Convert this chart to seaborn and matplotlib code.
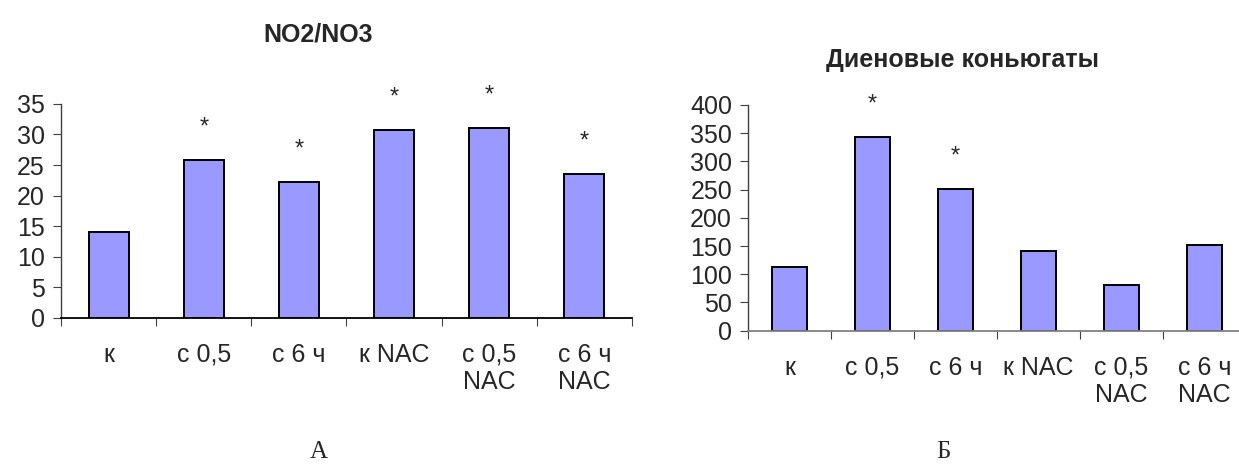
import matplotlib
matplotlib.use("Agg")
import matplotlib.pyplot as plt
from matplotlib.ticker import FixedLocator, NullFormatter
import seaborn as sns

# Group labels shared by both panels
groups = ["к", "с 0,5", "с 6 ч", "к NAC", "с 0,5\nNAC", "с 6 ч\nNAC"]

# Panel A: NO2/NO3
no_values = [14.0, 25.8, 22.3, 30.7, 31.1, 23.5]
no_marks = ["", "*", "*", "*", "*", "*"]
no_ticks = [0, 5, 10, 15, 20, 25, 30, 35]

# Panel Б: diene conjugates
dc_values = [112, 343, 251, 141, 81, 152]
dc_marks = ["", "*", "*", "", "", ""]
dc_ticks = [0, 50, 100, 150, 200, 250, 300, 350, 400]

sns.set_style("white")
plt.rcParams["font.family"] = ["Liberation Sans", "DejaVu Sans"]

BAR = "#9999FF"

fig = plt.figure(figsize=(12.39, 4.76), dpi=100)
ax_a = fig.add_axes([0.0492, 0.3326, 0.4609, 0.449])
ax_b = fig.add_axes([0.6037, 0.3053, 0.4019, 0.4742])


def draw_panel(ax, values, marks, ticks, title, title_xy, xspine_color):
    sns.barplot(x=groups, y=values, ax=ax, color=BAR, saturation=1,
                edgecolor="black", linewidth=1.4, width=0.42, order=groups)
    ax.set_xlim(-0.5, len(groups) - 0.5)
    ax.set_ylim(ticks[0], ticks[-1])
    ax.set_yticks(ticks)
    ax.set_xlabel("")
    ax.set_ylabel("")
    for side in ("top", "right"):
        ax.spines[side].set_visible(False)
    ax.spines["left"].set_color("#404040")
    ax.spines["bottom"].set_color(xspine_color)
    ax.spines["left"].set_linewidth(1.0)
    ax.spines["bottom"].set_linewidth(1.3)
    ax.tick_params(axis="y", direction="out", length=5.5, width=0.8,
                   color="#404040", labelsize=18, pad=6, left=True)
    # category boundaries carry the tick marks, the labels sit at the centres
    ax.xaxis.set_minor_locator(FixedLocator([i - 0.5 for i in range(len(groups) + 1)]))
    ax.xaxis.set_minor_formatter(NullFormatter())
    ax.tick_params(axis="x", which="minor", direction="out", length=5.5,
                   width=0.8, color="#404040", bottom=True)
    ax.tick_params(axis="x", which="major", length=0, pad=18, labelsize=18)
    for lab in ax.get_xticklabels():
        lab.set_linespacing(1.15)
        lab.set_verticalalignment("top")
    for i, (v, m) in enumerate(zip(values, marks)):
        if m:
            ax.annotate(m, (i, v), xytext=(0, 19), textcoords="offset points",
                        ha="center", va="baseline", fontsize=17)
    fig.text(title_xy[0], title_xy[1], title, ha="center", va="center",
             fontsize=18, fontweight="bold")


draw_panel(ax_a, no_values, no_marks, no_ticks, "NO2/NO3",
           (318 / 1239, 1 - 35 / 476), "black")
draw_panel(ax_b, dc_values, dc_marks, dc_ticks, "Диеновые коньюгаты",
           (963 / 1239, 1 - 60 / 476), "#808080")

fig.text(319 / 1239, 1 - 452 / 476, "А", ha="center", va="center",
         fontsize=18, family=["Liberation Serif", "DejaVu Serif"])
fig.text(943 / 1239, 1 - 452 / 476, "Б", ha="center", va="center",
         fontsize=18, family=["Liberation Serif", "DejaVu Serif"])

fig.savefig("out.png", dpi=100)
